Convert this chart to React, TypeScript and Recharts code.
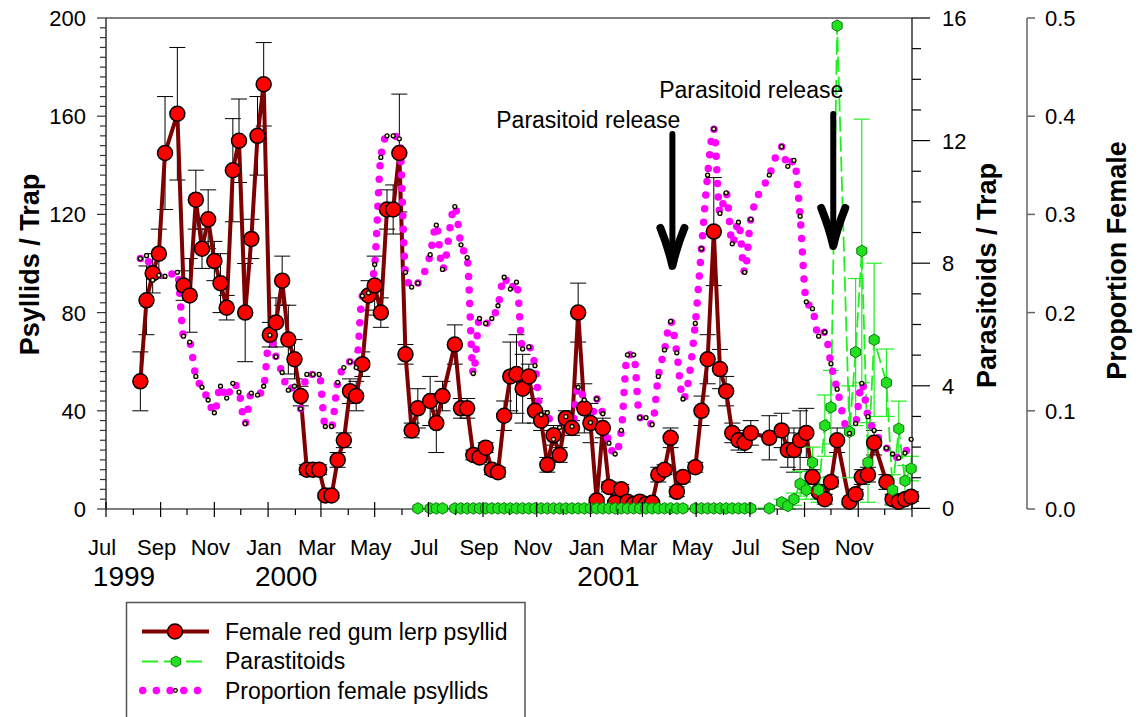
import React from 'react';
import { LineChart, Line, XAxis, YAxis, ErrorBar, ReferenceLine, ReferenceDot } from 'recharts';

// days are counted from 1 Jul 1999, samples are weekly from 9 Aug 1999
const FIRST_SAMPLE_DAY = 39;

const sampleWeeks = [
  0, 1, 2, 3, 4, 6, 7, 8, 9, 10, 11, 12, 13, 14, 15, 16, 17, 18, 19, 20, 21, 22, 23, 24, 25, 26, 27, 28, 29, 30,
  31, 32, 33, 34, 35, 36, 37, 38, 39, 40, 41, 42, 43, 44, 45, 47, 48, 49, 51, 52, 53, 54, 55, 56, 57, 58, 59, 60,
  61, 62, 63, 64, 65, 66, 67, 68, 69, 70, 71, 72, 73, 74, 75, 76, 77, 78, 79, 80, 81, 82, 83, 84, 85, 86, 87, 88,
  90, 91, 92, 93, 94, 95, 96, 97, 98, 99, 102, 104, 105, 106, 107, 108, 109, 110, 111, 112, 113, 115, 116, 117,
  118, 119, 121, 122, 123, 124, 125,
];

const psyllidMean = [
  52, 85, 96, 104, 145, 161, 91, 87, 126, 106, 118, 101, 92, 82, 138, 150, 80, 110, 152, 173, 71, 76, 93, 69, 61,
  46, 16, 16, 16, 5.5, 5.5, 20, 28, 48, 46, 59, 87, 91, 80, 122, 122, 145, 63, 32, 41, 44, 35, 46, 67, 41, 41, 22,
  21, 25, 16, 15, 38, 54, 55, 49, 54, 40, 36, 18, 30, 22, 37, 33, 80, 41, 35, 3.5, 33, 9, 2.5, 8, 3, 2, 3, 2, 2.5,
  14, 16, 29, 7, 13, 17, 40, 61, 113, 57, 48, 31, 28, 27, 31, 29, 32, 24, 24, 28, 31, 13, 7, 4, 11, 28, 3, 6, 13,
  14, 27, 11, 4, 3, 4, 5,
];

const psyllidSE = [
  12, 14, 8, 10, 23, 27, 6, 15, 12, 8, 12, 8, 12, 5, 21, 17, 20, 8, 16, 17, 5, 10, 10, 14, 8, 4, 2, 2, 2, 1, 1, 3,
  3, 5, 6, 5, 6, 12, 6, 8, 10, 24, 4, 3, 8, 10, 12, 6, 8, 4, 4, 2, 2, 2, 2, 2, 6, 14, 16, 14, 5, 5, 4, 3, 4, 3, 3,
  3, 12, 10, 8, 1, 4, 2, 1, 2, 1, 1, 1, 1, 1, 3, 2, 4, 2, 2, 2, 6, 10, 22, 8, 6, 4, 4, 4, 5, 9, 7, 7, 9, 12, 10, 3,
  3, 2, 2, 5, 1, 2, 3, 3, 5, 3, 2, 2, 2, 2,
];

const proportionFemale = [
  0.255, 0.258, 0.233, 0.238, 0.237, 0.241, 0.176, 0.17, 0.135, 0.124, 0.111, 0.098, 0.125, 0.113, 0.128, 0.119,
  0.087, 0.118, 0.116, 0.125, 0.177, 0.155, 0.139, 0.121, 0.125, 0.102, 0.137, 0.137, 0.137, 0.084, 0.084, 0.129,
  0.144, 0.15, 0.144, 0.217, 0.22, 0.249, 0.358, 0.38, 0.38, 0.377, 0.241, 0.226, 0.23, 0.259, 0.289, 0.244, 0.308,
  0.269, 0.256, 0.138, 0.194, 0.189, 0.194, 0.207, 0.236, 0.224, 0.231, 0.163, 0.165, 0.146, 0.096, 0.098, 0.071,
  0.083, 0.094, 0.084, 0.124, 0.111, 0.088, 0.112, 0.097, 0.067, 0.056, 0.08, 0.157, 0.157, 0.093, 0.093, 0.086,
  0.135, 0.162, 0.191, 0.159, 0.112, 0.189, 0.265, 0.34, 0.387, 0.301, 0.322, 0.27, 0.292, 0.241, 0.295, 0.34,
  0.369, 0.349, 0.355, 0.298, 0.211, 0.204, 0.176, 0.18, 0.148, 0.122, 0.077, 0.087, 0.128, 0.094, 0.08, 0.062,
  0.056, 0.052, 0.057, 0.071,
];

// parasitoid trapping started with week 45
const parasitoidWeeks = sampleWeeks.filter((w) => w >= 45);

const parasitoidMean = [
  0, 0, 0, 0, 0, 0, 0, 0, 0, 0, 0, 0, 0, 0, 0, 0, 0, 0, 0, 0, 0, 0, 0, 0, 0, 0, 0, 0, 0, 0, 0, 0, 0, 0, 0, 0, 0, 0,
  0, 0, 0, 0, 0, 0, 0, 0, 0, 0, 0, 0, 0, 0, 0, 0.2, 0.08, 0.3, 0.8, 0.6, 1.5, 0.6, 2.7, 3.3, 15.75, 2.5, 5.1, 8.4,
  1.5, 5.5, 4.1, 0.6, 2.6, 0.9, 1.3,
];

const parasitoidSE = [
  0, 0, 0, 0, 0, 0, 0, 0, 0, 0, 0, 0, 0, 0, 0, 0, 0, 0, 0, 0, 0, 0, 0, 0, 0, 0, 0, 0, 0, 0, 0, 0, 0, 0, 0, 0, 0, 0,
  0, 0, 0, 0, 0, 0, 0, 0, 0, 0, 0, 0, 0, 0, 0, 0.1, 0.1, 0.2, 0.4, 0.3, 0.5, 0.4, 1.0, 1.2, 0, 1.5, 2.4, 4.3, 1.3,
  2.5, 1.1, 0.5, 0.9, 0.5, 0.4,
];

const monthStarts = [
  0, 31, 62, 92, 123, 153, 184, 215, 244, 275, 305, 336, 366, 397, 428, 458, 489, 519, 550, 581, 609, 640, 670, 701,
  731, 762, 793, 823, 854, 884, 915,
];
const monthNames = ['Jul', 'Aug', 'Sep', 'Oct', 'Nov', 'Dec', 'Jan', 'Feb', 'Mar', 'Apr', 'May', 'Jun'];
const yearLabels: Record<number, string> = { 0: '1999', 184: '2000', 550: '2001' };

const psyllidTicks = Array.from({ length: 51 }, (_, i) => i * 4);
const parasitoidTicks = Array.from({ length: 17 }, (_, i) => i);
const proportionTicks = [0, 0.1, 0.2, 0.3, 0.4, 0.5];

const releases = [
  { day: 643, tip: 97.4, textDx: 8, textLift: 142 },
  { day: 825.6, tip: 105.5, textDx: 10, textLift: 152 },
];

const dayOf = (w: number) => FIRST_SAMPLE_DAY + 7 * w;

const psyllidData = sampleWeeks.map((w, i) => ({ day: dayOf(w), mean: psyllidMean[i], se: psyllidSE[i] }));
const proportionData = sampleWeeks.map((w, i) => ({ day: dayOf(w), prop: proportionFemale[i] }));
const parasitoidData = parasitoidWeeks.map((w, i) => ({
  day: dayOf(w),
  mean: parasitoidMean[i],
  se: parasitoidSE[i],
}));

const FONT = '"Liberation Sans", Arial, sans-serif';
const RED_LINE = '#7f0000';
const GREEN = '#22ee22';
const MAGENTA = '#ff00ff';

const hexPoints = (cx: number, cy: number, r: number) =>
  Array.from({ length: 6 }, (_, k) => {
    const a = (Math.PI / 3) * k + Math.PI / 2;
    return `${cx + r * Math.cos(a)},${cy + r * Math.sin(a)}`;
  }).join(' ');

const MonthTick = (props: any) => {
  const { x, y, payload } = props;
  const i = monthStarts.indexOf(payload.value);
  const major = i % 2 === 0;
  const label = major && i < monthStarts.length - 1 ? monthNames[i % 12] : null;
  const year = yearLabels[payload.value];
  return (
    <g>
      <line x1={x} x2={x} y1={major ? y - 7 : y} y2={y + (major ? 8 : 6)} stroke="#000" strokeWidth={1.2} />
      {label && (
        <text x={x - 4} y={y + 46} textAnchor="middle" fontSize={22} fontFamily={FONT} fill="#000">
          {label}
        </text>
      )}
      {year && (
        <text x={x + 18} y={y + 77} textAnchor="middle" fontSize={28} fontFamily={FONT} fill="#000">
          {year}
        </text>
      )}
    </g>
  );
};

const PsyllidTick = (props: any) => {
  const { x, y, payload } = props;
  const major = payload.value % 40 === 0;
  return (
    <g>
      <line x1={x - (major ? 9 : 6)} x2={x} y1={y} y2={y} stroke="#333" strokeWidth={1.2} />
      {major && (
        <text x={x - 20} y={y} dy="0.36em" textAnchor="end" fontSize={22} fontFamily={FONT} fill="#000">
          {payload.value}
        </text>
      )}
    </g>
  );
};

const ParasitoidTick = (props: any) => {
  const { x, y, payload } = props;
  const major = payload.value % 4 === 0;
  return (
    <g>
      <line x1={x} x2={x + (major ? 18 : 9)} y1={y} y2={y} stroke="#000" strokeWidth={1.2} />
      {major && (
        <text x={x + 30} y={y} dy="0.36em" textAnchor="start" fontSize={22} fontFamily={FONT} fill="#000">
          {payload.value}
        </text>
      )}
    </g>
  );
};

const ProportionTick = (props: any) => {
  const { x, y, payload } = props;
  return (
    <g>
      <line x1={x} x2={x + 8} y1={y} y2={y} stroke="#666" strokeWidth={1.5} />
      <text x={x + 18} y={y} dy="0.36em" textAnchor="start" fontSize={22} fontFamily={FONT} fill="#000">
        {Number(payload.value).toFixed(1)}
      </text>
    </g>
  );
};

const axisTitle = (text: string, dx: number, dy: number) => (props: any) => {
  const { viewBox } = props;
  const cx = viewBox.x + dx;
  const cy = viewBox.y + viewBox.height / 2 + dy;
  return (
    <text
      x={cx}
      y={cy}
      transform={`rotate(-90 ${cx} ${cy})`}
      textAnchor="middle"
      dominantBaseline="central"
      fontSize={27}
      fontWeight="bold"
      fontFamily={FONT}
      fill="#000"
    >
      {text}
    </text>
  );
};

const redDot = (props: any) => (
  <circle key={`r${props.index}`} cx={props.cx} cy={props.cy} r={7.5} fill="#ff0000" stroke="#000" strokeWidth={1.5} />
);

const hexDot = (props: any) => (
  <polygon key={`g${props.index}`} points={hexPoints(props.cx, props.cy, 5.8)} fill="#20e020" stroke="#0b7a0b" strokeWidth={1} />
);

const sampleDot = (props: any) => (
  <circle key={`m${props.index}`} cx={props.cx} cy={props.cy} r={2} fill="#f0f0a0" stroke="#000" strokeWidth={1.3} />
);

const releaseArrow = (textDx: number, textLift: number) => (props: any) => {
  const { cx, cy } = props;
  return (
    <g>
      <path d={`M${cx},${cy - 136} L${cx},${cy - 8}`} stroke="#000" strokeWidth={6} strokeLinecap="round" fill="none" />
      <path
        d={`M${cx - 12},${cy - 42} Q${cx - 4},${cy - 22} ${cx},${cy - 4} Q${cx + 4},${cy - 22} ${cx + 12},${cy - 42}`}
        stroke="#000"
        strokeWidth={8}
        strokeLinecap="round"
        strokeLinejoin="round"
        fill="none"
      />
      <text x={cx + textDx} y={cy - textLift} textAnchor="end" fontSize={23} fontFamily={FONT} fill="#000">
        Parasitoid release
      </text>
    </g>
  );
};

const ChartLegend = () => (
  <svg width={1142} height={717} style={{ position: 'absolute', left: 0, top: 0, pointerEvents: 'none' }}>
    <rect x={126.5} y={602.5} width={398.5} height={140} fill="none" stroke="#555" strokeWidth={1.5} />
    <line x1={142} x2={209} y1={631.5} y2={631.5} stroke={RED_LINE} strokeWidth={4} />
    <circle cx={175} cy={631.5} r={7.5} fill="#ff0000" stroke="#000" strokeWidth={1.5} />
    <line x1={142} x2={202} y1={661.5} y2={661.5} stroke={GREEN} strokeWidth={1.8} strokeDasharray="16 6" />
    <polygon points={hexPoints(176, 661.5, 5.5)} fill="#20e020" stroke="#0b7a0b" strokeWidth={1} />
    {[142.7, 156.4, 170.1, 183.8, 197.5].map((x) => (
      <circle key={x} cx={x} cy={690.5} r={3.8} fill={MAGENTA} />
    ))}
    <circle cx={175.5} cy={690.5} r={1.8} fill="#f0f0a0" stroke="#000" strokeWidth={1.2} />
    {['Female red gum lerp psyllid', 'Parastitoids', 'Proportion female psyllids'].map((t, i) => (
      <text key={t} x={225} y={631.5 + i * 29.5} dy="0.36em" fontSize={23} fontFamily={FONT} fill="#000">
        {t}
      </text>
    ))}
  </svg>
);

export default function App() {
  return (
    <div style={{ position: 'absolute', left: 0, top: 0, width: 1142, height: 717, background: '#fff', fontFamily: FONT }}>
      <LineChart width={1142} height={717} margin={{ top: 18, right: 0, bottom: 0, left: 0 }}>
        <XAxis
          dataKey="day"
          type="number"
          domain={[0, 915]}
          ticks={monthStarts}
          interval={0}
          tick={<MonthTick />}
          tickLine={false}
          tickSize={0}
          tickMargin={0}
          axisLine={{ stroke: '#000', strokeWidth: 1.2 }}
          height={208}
        />
        <YAxis
          yAxisId="psy"
          domain={[0, 200]}
          ticks={psyllidTicks}
          interval={0}
          width={106}
          tick={<PsyllidTick />}
          tickLine={false}
          tickSize={0}
          tickMargin={0}
          axisLine={{ stroke: '#333', strokeWidth: 1.5 }}
          label={{ content: axisTitle('Psyllids / Trap', 30, 1) }}
        />
        <YAxis
          yAxisId="par"
          orientation="right"
          domain={[0, 16]}
          ticks={parasitoidTicks}
          interval={0}
          width={115}
          tick={<ParasitoidTick />}
          tickLine={false}
          tickSize={0}
          tickMargin={0}
          axisLine={{ stroke: '#000', strokeWidth: 1.2 }}
          label={{ content: axisTitle('Parasitoids / Trap', 75, 12) }}
        />
        <YAxis
          yAxisId="prop"
          orientation="right"
          domain={[0, 0.5]}
          ticks={proportionTicks}
          interval={0}
          width={115}
          tick={<ProportionTick />}
          tickLine={false}
          tickSize={0}
          tickMargin={0}
          axisLine={{ stroke: '#666', strokeWidth: 1.5 }}
          label={{ content: axisTitle('Proportion Female', 90, -3) }}
        />
        <ReferenceLine yAxisId="psy" y={200} stroke="#555" strokeWidth={1.5} />
        <Line
          yAxisId="psy"
          data={psyllidData}
          dataKey="mean"
          type="linear"
          stroke={RED_LINE}
          strokeWidth={4}
          dot={redDot}
          activeDot={false}
          isAnimationActive={false}
        >
          <ErrorBar dataKey="se" direction="y" width={8} stroke="#000" strokeWidth={1} />
        </Line>
        <Line
          yAxisId="par"
          data={parasitoidData}
          dataKey="mean"
          type="linear"
          stroke={GREEN}
          strokeWidth={1.8}
          strokeDasharray="15 5"
          dot={hexDot}
          activeDot={false}
          isAnimationActive={false}
        >
          <ErrorBar dataKey="se" direction="y" width={8} stroke={GREEN} strokeWidth={1.2} />
        </Line>
        <Line
          yAxisId="prop"
          data={proportionData}
          dataKey="prop"
          type="monotone"
          stroke={MAGENTA}
          strokeWidth={7.5}
          strokeDasharray="0 13.5"
          strokeLinecap="round"
          dot={sampleDot}
          activeDot={false}
          isAnimationActive={false}
        />
        {releases.map((r) => (
          <ReferenceDot
            key={r.day}
            yAxisId="psy"
            x={r.day}
            y={r.tip}
            r={0}
            shape={releaseArrow(r.textDx, r.textLift)}
          />
        ))}
      </LineChart>
      <ChartLegend />
    </div>
  );
}
